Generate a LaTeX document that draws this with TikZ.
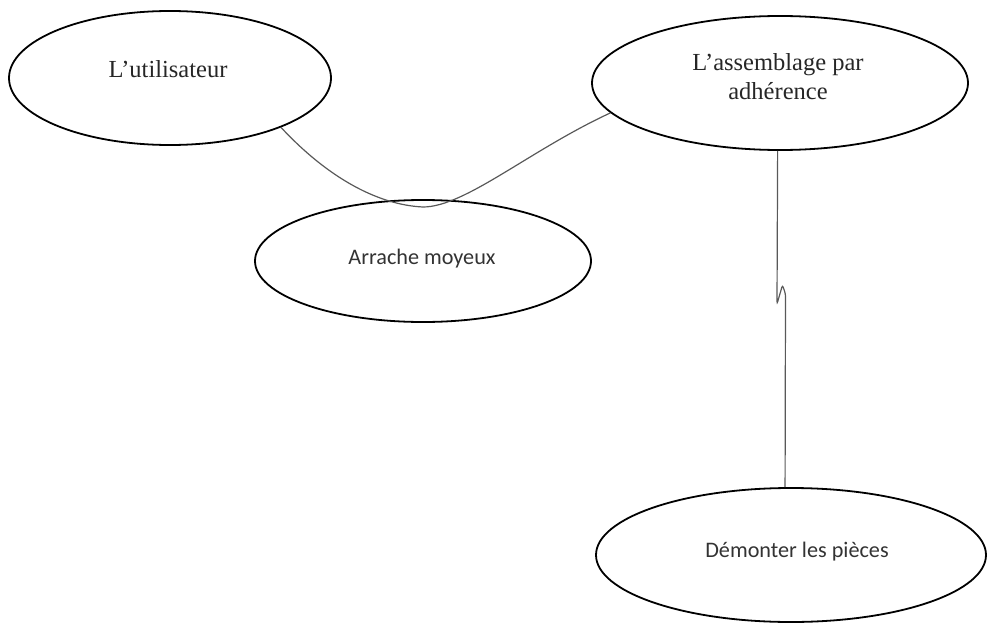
\documentclass[tikz,border=0pt]{standalone}
\usepackage{fontspec}
\setmainfont{Liberation Serif}
\newfontfamily\labelsans{Carlito}
\usetikzlibrary{shapes.geometric}
\begin{document}
\begin{tikzpicture}[x=1pt,y=-1pt,
  oval/.style={ellipse, draw=black, line width=1.8pt, inner sep=0pt},
  serifcap/.style={font=\fontsize{24.5}{29}\selectfont, text=black!85, inner sep=0pt, anchor=base, align=center},
  sanscap/.style={font=\labelsans\fontsize{22.2}{26}\selectfont, text=black!80, inner sep=0pt, anchor=base},
  link/.style={draw=black!65, line width=1.2pt}]
\useasboundingbox (0,0) rectangle (988,626);

% the four ellipses
\node[oval, minimum width=322pt, minimum height=134pt] (u) at (170,78) {};
\node[oval, minimum width=376pt, minimum height=134pt] (a) at (780,83) {};
\node[oval, minimum width=336pt, minimum height=122pt] (m) at (423,261) {};
\node[oval, minimum width=390pt, minimum height=134pt] (d) at (791,555) {};

% their captions (a two-line caption sits on the baseline of its last line)
\node[serifcap] (ut) at (168,77.5) {L’utilisateur};
\node[serifcap] (at) at (778,99.3) {L’assemblage par\\adhérence};
\node[sanscap] (mt) at (422,264) {Arrache moyeux};
\node[sanscap] (dt) at (797,557) {Démonter les pièces};

% sagging link between the two upper ellipses
\coordinate (dip) at (423,207);
\draw[link] (u.-24) .. controls (330,180) and (380,205) .. (dip)
                    .. controls (465,207) and (530,150) .. (a.190);

% vertical link with its small kink
\draw[link, rounded corners=2.5pt] (a.268) -- (777,304) -- (782.5,285) -- (785.5,294) -- (d.95);
\end{tikzpicture}
\end{document}
